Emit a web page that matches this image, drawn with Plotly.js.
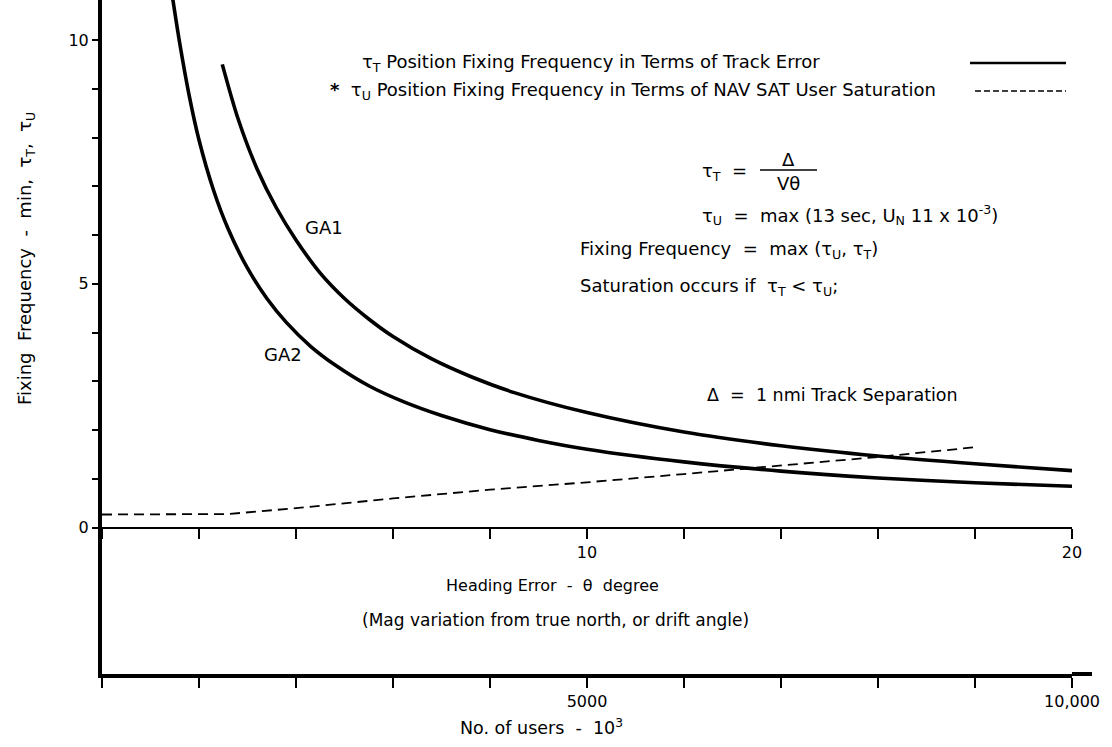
<!DOCTYPE html>
<html>
<head>
<meta charset="utf-8">
<script src="https://cdn.plot.ly/plotly-3.0.1.min.js"></script>
<style>
  html, body { margin: 0; padding: 0; background: #fff; }
  #chart { width: 1112px; height: 747px; }
</style>
</head>
<body>
<div id="chart"></div>
<script>
// Track-error fixing interval (min) against heading error (deg), two aircraft classes
const ga1Theta = [2.48, 2.8, 3.2, 3.6, 4.0, 4.5, 5.0, 5.5, 6.0, 6.8, 7.6, 8.5, 10, 12, 14, 16, 18, 20];
const ga1Tau   = [9.5, 8.4, 7.35, 6.55, 5.9, 5.22, 4.7, 4.28, 3.92, 3.46, 3.1, 2.77, 2.36, 1.96, 1.68, 1.47, 1.31, 1.17];

const ga2Theta = [1.45, 1.6, 1.8, 2.0, 2.3, 2.6, 3.0, 3.4, 3.8, 4.3, 4.8, 5.5, 6.2, 7.0, 8.0, 9.0, 10, 12, 14, 16, 18, 20];
const ga2Tau   = [10.9, 9.95, 8.85, 7.95, 6.92, 6.13, 5.32, 4.7, 4.21, 3.72, 3.34, 2.91, 2.59, 2.3, 2.01, 1.79, 1.61, 1.35, 1.16, 1.02, 0.92, 0.85];

// User-saturation fixing interval (min) against number of users (thousands)
const users  = [0, 1300, 2000, 3000, 4000, 5000, 6000, 7000, 8000, 9000];
const tauU   = [0.27, 0.28, 0.4, 0.6, 0.78, 0.93, 1.1, 1.28, 1.45, 1.65];

// Axis ticks: labelled ticks and the unlabelled ones between them
const yLabelVals = [0, 5, 10];
const yMinorVals = [1, 2, 3, 4, 6, 7, 8, 9];
const thetaLabelVals = [10, 20];
const thetaMinorVals = [0, 2, 4, 6, 8, 12, 14, 16, 18];
const userLabelVals = [5000, 10000];
const userLabelText = ['5000', '10,000'];
const userMinorVals = [0, 1000, 2000, 3000, 4000, 6000, 7000, 8000, 9000];

const FONT = 'DejaVu Sans, Liberation Sans, sans-serif';
const INK = '#000';

const curveLine = { color: INK, width: 3.6, shape: 'spline', smoothing: 0.8 };

const traces = [
  { x: ga1Theta, y: ga1Tau, mode: 'lines', line: curveLine, hoverinfo: 'skip', showlegend: false },
  { x: ga2Theta, y: ga2Tau, mode: 'lines', line: curveLine, hoverinfo: 'skip', showlegend: false },
  { x: users, y: tauU, xaxis: 'x2', mode: 'lines',
    line: { color: INK, width: 1.8, dash: '10px,6px' }, hoverinfo: 'skip', showlegend: false }
];

// plot frame in pixels, used to place the captions
const PL = 102, PW = 970, PT = 0, PH = 674;
const px = v => (v - PL) / PW;          // page x -> paper fraction
const py = v => (PT + PH - v) / PH;     // page y -> paper fraction

function note(text, x, y, opts) {
  return Object.assign({
    x: px(x), y: py(y), xref: 'paper', yref: 'paper', text: text, showarrow: false,
    xanchor: 'left', yanchor: 'middle',
    font: { family: FONT, size: 18, color: INK }
  }, opts || {});
}
const f = size => ({ family: FONT, size: size, color: INK });

const annotations = [
  // key
  note('τ<sub>T</sub> Position Fixing Frequency in Terms of Track Error', 360, 63),
  note('<b>*</b>  τ<sub>U</sub> Position Fixing Frequency in Terms of NAV SAT User Saturation', 328, 91),
  // relations
  note('τ<sub>T</sub>  =', 700, 172),
  note('Δ', 788, 159, { xanchor: 'center' }),
  note('Vθ', 788, 183, { xanchor: 'center' }),
  note('τ<sub>U</sub>  =  max (13 sec, U<sub>N</sub> 11 x 10<sup>-3</sup>)', 700, 215),
  note('Fixing Frequency  =  max (τ<sub>U</sub>, τ<sub>T</sub>)', 578, 250),
  note('Saturation occurs if  τ<sub>T</sub> < τ<sub>U</sub>;', 578, 287),
  note('Δ  =  1 nmi Track Separation', 705, 395, { font: f(17.5) }),
  // curve names
  note('GA1', 324, 227, { xanchor: 'center' }),
  note('GA2', 283, 355, { xanchor: 'center' }),
  // axis captions
  note('Heading Error  -  θ  degree', 552, 585, { xanchor: 'center', font: f(16) }),
  note('(Mag variation from true north, or drift angle)', 555, 620, { xanchor: 'center', font: f(17) }),
  note('No. of users  -  10<sup>3</sup>', 541, 727, { xanchor: 'center', font: f(17.5) }),
  note('Fixing  Frequency  -  min,  τ<sub>T</sub>,  τ<sub>U</sub>', 26, 259,
       { xanchor: 'center', textangle: -90, font: f(18) })
];

const shapes = [
  // fraction bar
  { type: 'line', xref: 'paper', yref: 'paper', x0: px(760), x1: px(817), y0: py(170), y1: py(170),
    line: { color: INK, width: 1.5 } },
  // key samples
  { type: 'line', xref: 'paper', yref: 'paper', x0: px(970), x1: px(1066), y0: py(63), y1: py(63),
    line: { color: INK, width: 2.5 } },
  { type: 'line', xref: 'paper', yref: 'paper', x0: px(975), x1: px(1066), y0: py(91), y1: py(91),
    line: { color: INK, width: 1.5, dash: '6px,3px' } },
  // bottom axis line runs a little past its last tick
  { type: 'line', xref: 'paper', yref: 'paper', x0: 1, x1: px(1092), y0: 0, y1: 0,
    line: { color: INK, width: 4 } }
];

const minorTicks = (vals, len) => ({
  tickmode: 'array', tickvals: vals, ticks: 'outside', ticklen: len, tickwidth: 2,
  tickcolor: INK, showgrid: false
});

const layout = {
  width: 1112, height: 747,
  margin: { l: PL, r: 1112 - PL - PW, t: PT, b: 747 - PT - PH, pad: 0 },
  paper_bgcolor: '#fff', plot_bgcolor: '#fff',
  showlegend: false,
  font: { family: FONT, color: INK },
  xaxis: {
    range: [0, 20], anchor: 'free', position: 3 / 13.82,
    showline: true, linecolor: INK, linewidth: 2.5,
    ticks: 'outside', ticklen: 10, tickwidth: 2, tickcolor: INK,
    tickmode: 'array', tickvals: thetaLabelVals,
    minor: minorTicks(thetaMinorVals, 10),
    tickfont: f(16),
    showgrid: false, zeroline: false, fixedrange: true
  },
  xaxis2: {
    range: [0, 10000], overlaying: 'x', anchor: 'y', side: 'bottom',
    showline: true, linecolor: INK, linewidth: 4,
    ticks: 'outside', ticklen: 10, tickwidth: 2, tickcolor: INK,
    tickmode: 'array', tickvals: userLabelVals, ticktext: userLabelText,
    minor: minorTicks(userMinorVals, 10),
    tickfont: f(16),
    showgrid: false, zeroline: false, fixedrange: true
  },
  yaxis: {
    range: [-3, 10.82],
    showline: true, linecolor: INK, linewidth: 4,
    ticks: 'outside', ticklen: 6, tickwidth: 2, tickcolor: INK,
    tickmode: 'array', tickvals: yLabelVals,
    minor: minorTicks(yMinorVals, 6),
    tickfont: f(16),
    showgrid: false, zeroline: false, fixedrange: true
  },
  annotations: annotations,
  shapes: shapes
};

Plotly.newPlot('chart', traces, layout, { staticPlot: true, displayModeBar: false });
</script>
</body>
</html>
